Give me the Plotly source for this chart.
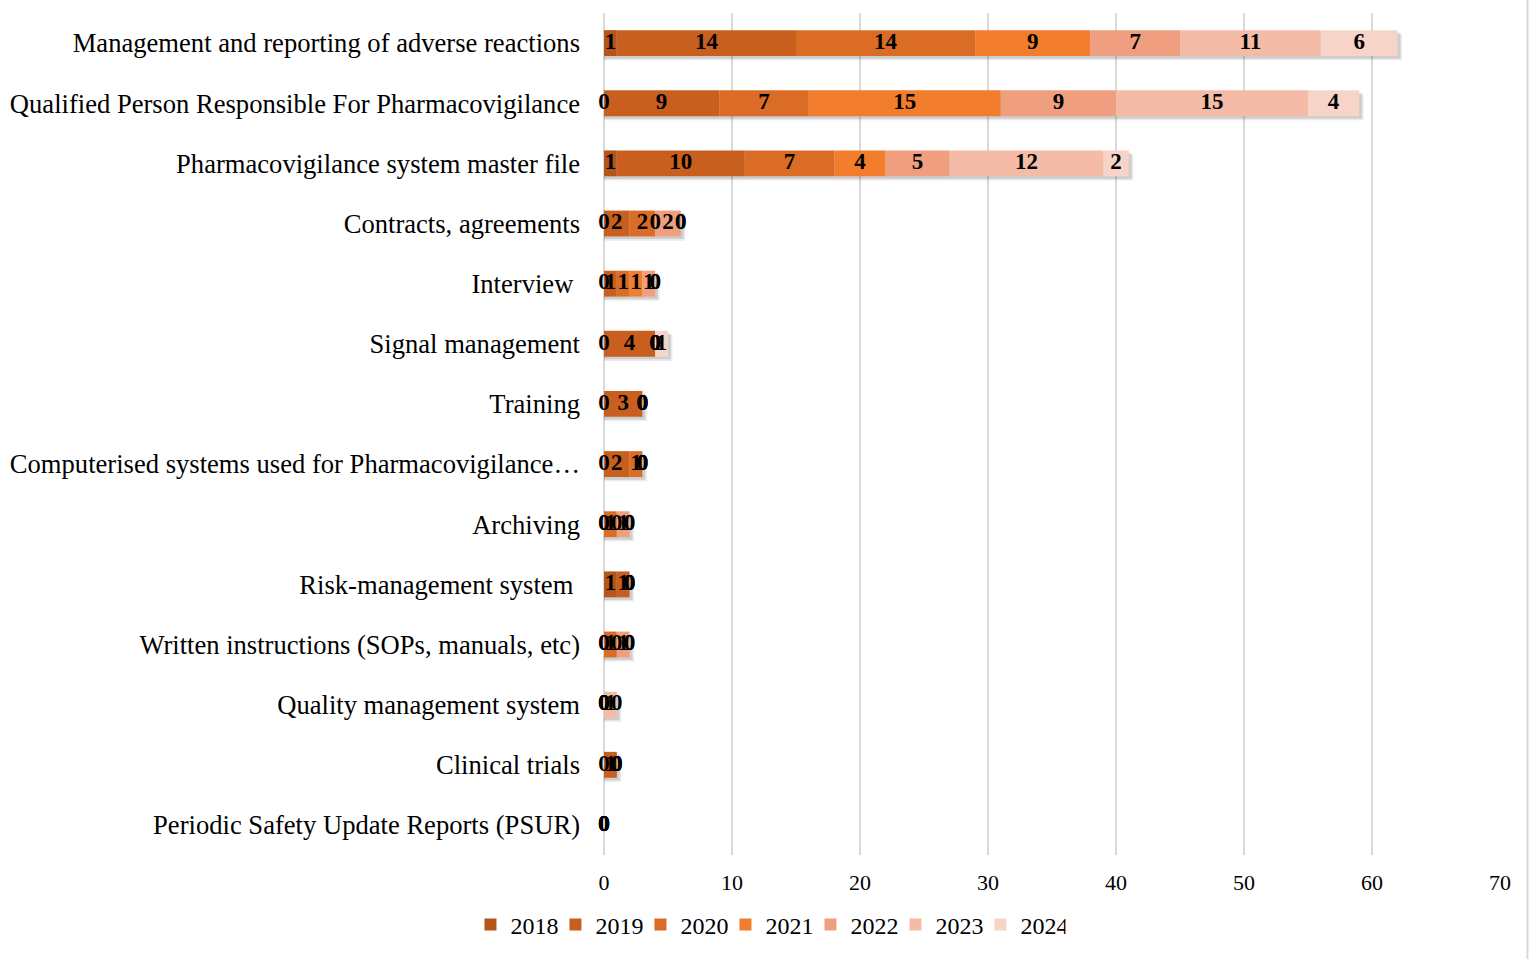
import plotly.graph_objects as go

# Inspection finding categories (top to bottom)
categories = [
    "Management and reporting of adverse reactions",
    "Qualified Person Responsible For Pharmacovigilance",
    "Pharmacovigilance system master file",
    "Contracts, agreements",
    "Interview\u00a0",
    "Signal management",
    "Training",
    "Computerised systems used for Pharmacovigilance…",
    "Archiving",
    "Risk-management system\u00a0",
    "Written instructions (SOPs, manuals, etc)",
    "Quality management system",
    "Clinical trials",
    "Periodic Safety Update Reports (PSUR)",
]

years = ["2018", "2019", "2020", "2021", "2022", "2023", "2024"]

# Number of findings per category, one list per year
v2018 = [1, 0, 1, 0, 0, 0, 0, 0, 0, 1, 0, 0, 0, 0]
v2019 = [14, 9, 10, 2, 1, 4, 3, 2, 0, 1, 0, 0, 1, 0]
v2020 = [14, 7, 7, 2, 1, 0, 0, 1, 1, 0, 1, 0, 0, 0]
v2021 = [9, 15, 4, 0, 1, 0, 0, 0, 0, 0, 0, 0, 0, 0]
v2022 = [7, 9, 5, 2, 1, 0, 0, 0, 1, 0, 1, 0, 0, 0]
v2023 = [11, 15, 12, 0, 0, 0, 0, 0, 0, 0, 0, 1, 0, 0]
v2024 = [6, 4, 2, 0, 0, 1, 0, 0, 0, 0, 0, 0, 0, 0]

series = [v2018, v2019, v2020, v2021, v2022, v2023, v2024]
colors = ["#B4551C", "#C95F1E", "#DB6C26", "#F17D2D", "#EF9F7F", "#F4BCA7", "#F7D4C8"]

x_ticks = [0, 10, 20, 30, 40, 50, 60, 70]

FONT = "Times New Roman, Liberation Serif, serif"
BAR_W = 0.43
n = len(categories)
rows = list(range(n))

fig = go.Figure()

# soft drop shadow behind each stacked bar
totals = [sum(s[i] for s in series) for i in range(n)]
for spread, alpha in [(0.35, 0.08), (0.22, 0.12)]:
    fig.add_trace(go.Bar(
        y=rows,
        x=[t + spread if t > 0 else 0 for t in totals],
        base=0,
        orientation="h",
        width=BAR_W,
        offset=-BAR_W / 2 + spread * 0.2,
        marker=dict(color=f"rgba(0,0,0,{alpha})", line=dict(width=0)),
        hoverinfo="skip",
        showlegend=False,
    ))

# stacked segments
cum = [0] * n
label_x, label_y, label_t = [], [], []
for year, vals, col in zip(years, series, colors):
    fig.add_trace(go.Bar(
        y=rows,
        x=vals,
        base=cum[:],
        orientation="h",
        width=BAR_W,
        name=year,
        marker=dict(color=col, line=dict(width=0)),
    ))
    for i, v in enumerate(vals):
        label_x.append(cum[i] + v / 2)
        label_y.append(i)
        label_t.append(str(v))
    cum = [c + v for c, v in zip(cum, vals)]

# value labels (zero values sit at the segment boundary)
fig.add_trace(go.Scatter(
    x=label_x,
    y=label_y,
    text=label_t,
    mode="text",
    textposition="middle center",
    textfont=dict(family=FONT, size=23, color="#000000", weight="bold"),
    cliponaxis=False,
    showlegend=False,
    hoverinfo="skip",
))

fig.update_layout(
    barmode="overlay",
    width=1530,
    height=959,
    margin=dict(l=604, r=30, t=13, b=104, autoexpand=False),
    paper_bgcolor="white",
    plot_bgcolor="white",
    font=dict(family=FONT, color="#000000"),
    legend=dict(
        orientation="h",
        x=0.183,
        xanchor="center",
        y=-0.083,
        yanchor="middle",
        font=dict(family=FONT, size=24, color="#000000"),
        itemwidth=30,
        entrywidth=40,
        entrywidthmode="pixels",
        traceorder="normal",
    ),
    xaxis=dict(
        range=[0, 70],
        tickvals=x_ticks,
        ticktext=[str(t) for t in x_ticks],
        showgrid=True,
        gridcolor="#D9D9D9",
        gridwidth=2,
        zeroline=True,
        zerolinecolor="#D9D9D9",
        zerolinewidth=2,
        showline=False,
        ticks="",
        tickfont=dict(family=FONT, size=22, color="#000000"),
        ticklabelstandoff=12,
        automargin=False,
        fixedrange=True,
    ),
    yaxis=dict(
        range=[n - 0.5, -0.5],
        autorange=False,
        tickvals=rows,
        ticktext=categories,
        showgrid=False,
        zeroline=False,
        showline=False,
        ticks="",
        tickfont=dict(family=FONT, size=26.6, color="#000000"),
        ticklabelstandoff=23,
        automargin=False,
        fixedrange=True,
    ),
)

# chart frame edge on the right
fig.add_shape(type="line", xref="paper", yref="paper", x0=1.0307, x1=1.0307,
              y0=-0.2, y1=1.02, line=dict(color="#D9D9D9", width=2))

fig.write_html("out.html")
